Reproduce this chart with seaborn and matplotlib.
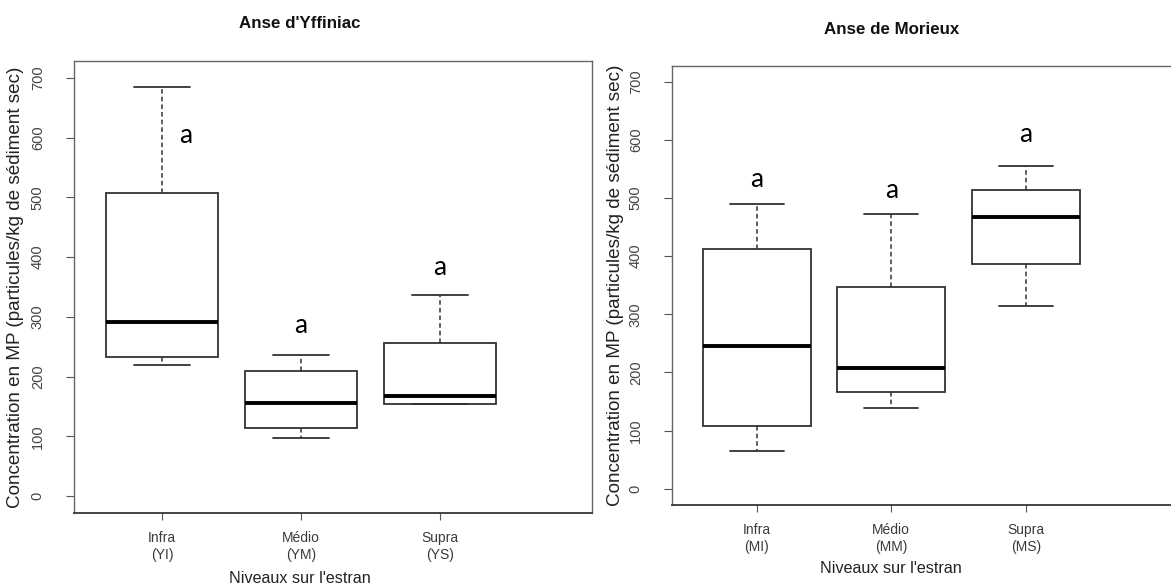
import pandas as pd
import seaborn as sns
import matplotlib.pyplot as plt

# niveaux sur l'estran
niveaux = ['Infra', 'Médio', 'Supra']

yff_infra = [220, 233, 291, 508, 685]
yff_medio = [97, 114, 156, 209, 237]
yff_supra = [155, 155, 167, 256, 336]

mor_infra = [64, 108, 245, 413, 490]
mor_medio = [139, 166, 208, 347, 473]
mor_supra = [314, 387, 467, 514, 555]

# étiquettes
yff_ticks = ['Infra\n(YI)', 'Médio\n(YM)', 'Supra\n(YS)']
mor_ticks = ['Infra\n(MI)', 'Médio\n(MM)', 'Supra\n(MS)']

# hauteur des lettres de groupe
yff_lettres_y = [604, 286, 383]
mor_lettres_y = [532, 513, 610]
lettres = ['a', 'a', 'a']


def to_df(infra, medio, supra):
    rows = []
    for niv, vals in zip(niveaux, [infra, medio, supra]):
        for v in vals:
            rows.append({'niveau': niv, 'conc': v})
    return pd.DataFrame(rows)


df_yff = to_df(yff_infra, yff_medio, yff_supra)
df_mor = to_df(mor_infra, mor_medio, mor_supra)

sns.set_theme(style='white')
plt.rcParams['font.family'] = ['Liberation Sans', 'DejaVu Sans']

fig = plt.figure(figsize=(11.71, 5.88), dpi=100)
ax1 = fig.add_axes([0.0632, 0.1276, 0.4424, 0.7687])
ax2 = fig.add_axes([0.5739, 0.1412, 0.4295, 0.7466])

ylabel = 'Concentration en MP (particules/kg de sédiment sec)'
edge = '#333333'

panels = [
    (ax1, df_yff, yff_ticks, yff_lettres_y, "Anse d'Yffiniac", (-0.633, 3.094), (-28, 728), 0.17),
    (ax2, df_mor, mor_ticks, mor_lettres_y, 'Anse de Morieux', (-0.63, 3.11), (-28, 727), 0.0),
]

for ax, df, ticks, lett_y, titre, xl, yl, dx0 in panels:
    sns.boxplot(data=df, x='niveau', y='conc', order=niveaux, ax=ax,
                color='white', linecolor=edge, linewidth=1.3, width=0.8,
                whis=1.5, showfliers=False,
                medianprops={'color': 'black', 'linewidth': 2.8},
                whiskerprops={'linestyle': (0, (3, 2)), 'linewidth': 1.1},
                capprops={'linewidth': 1.3})
    ax.set_xlim(*xl)
    ax.set_ylim(*yl)
    ax.set_yticks([0, 100, 200, 300, 400, 500, 600, 700])
    ax.set_xticks(range(len(niveaux)))
    ax.set_xticklabels(ticks, fontsize=10, color='#3a3a3a', linespacing=1.25)
    for lab in ax.get_yticklabels():
        lab.set_rotation(90)
        lab.set_va('center')
        lab.set_fontsize(10.5)
        lab.set_color('#444444')
    ax.tick_params(axis='y', direction='out', length=6, width=0.8, color='#555555', pad=15, left=True)
    ax.tick_params(axis='x', direction='out', length=5, width=0.8, color='#555555', pad=8, bottom=True)
    for s in ax.spines.values():
        s.set_color('#666666')
        s.set_linewidth(1.0)
    ax.spines['bottom'].set_color('#444444')
    ax.spines['bottom'].set_linewidth(1.4)

    ax.set_xlabel("Niveaux sur l'estran", fontsize=11.6, color='#222222', va='center')
    ax.xaxis.set_label_coords(0.436, -0.144)
    ax.set_ylabel(ylabel, fontsize=13.6, color='#222222', va='center')
    ax.yaxis.set_label_coords(-0.113, 0.5)

    ax.text(0.436, 1.084, titre, transform=ax.transAxes, ha='center', va='center',
            fontsize=12.2, fontweight='bold', color='#111111')

    for i, (yv, lt) in enumerate(zip(lett_y, lettres)):
        dx = dx0 if i == 0 else 0.0
        ax.text(i + dx, yv, lt, ha='center', va='center', fontsize=19,
                family=['Lato', 'DejaVu Sans'], color='black')

ax2.spines['right'].set_visible(False)

plt.savefig('out.png', dpi=100)
